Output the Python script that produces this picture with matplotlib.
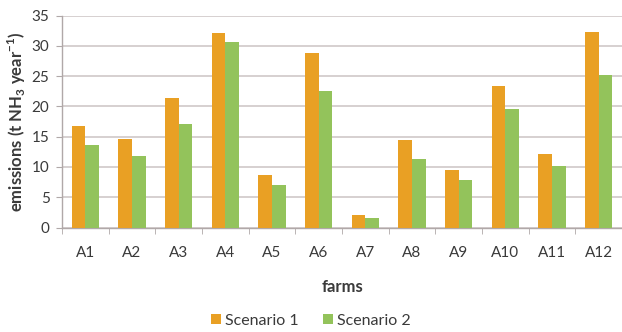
import numpy as np
import matplotlib
matplotlib.use("Agg")
import matplotlib.pyplot as plt

# 數據
farms = ["A1", "A2", "A3", "A4", "A5", "A6", "A7", "A8", "A9", "A10", "A11", "A12"]
scenario1 = [16.8, 14.7, 21.4, 32.1, 8.7, 28.8, 2.0, 14.5, 9.5, 23.4, 12.2, 32.3]
scenario2 = [13.7, 11.8, 17.1, 30.7, 7.1, 22.6, 1.5, 11.3, 7.9, 19.6, 10.2, 25.2]

plt.rcParams['font.family'] = ['Lato', 'DejaVu Sans']
plt.rcParams['mathtext.fontset'] = 'custom'
plt.rcParams['mathtext.rm'] = 'Lato'
plt.rcParams['mathtext.bf'] = 'Lato:bold'

ORANGE = '#E9A024'
GREEN = '#93C35B'
GRID = '#CFC8C8'
AXIS = '#B0A8A8'
TEXT = '#3A3A3A'

fig = plt.figure(figsize=(6.22, 3.32), dpi=100)
ax = fig.add_axes([62 / 622, 1 - 227.5 / 332, 1 - 62 / 622, (227.5 - 15.7) / 332])

x = np.arange(len(farms))
w = 0.29
ax.bar(x - w / 2, scenario1, width=w, color=ORANGE, label='Scenario 1', zorder=3)
ax.bar(x + w / 2, scenario2, width=w, color=GREEN, label='Scenario 2', zorder=3)

ax.set_xlim(-0.5, len(farms) - 0.5)
ax.set_ylim(0, 35)
ax.set_yticks(np.arange(0, 36, 5))
ax.yaxis.grid(True, color=GRID, linewidth=1.2, zorder=0)
ax.set_axisbelow(True)

ax.set_xticks(x)
ax.set_xticklabels(farms)
ax.set_xticks(np.arange(-0.5, len(farms), 1), minor=True)
ax.tick_params(axis='x', which='major', length=0, pad=13, labelsize=11, labelcolor=TEXT)
ax.tick_params(axis='x', which='minor', length=4, color=AXIS, direction='out')
ax.tick_params(axis='y', length=4, color=AXIS, pad=5, labelsize=11, labelcolor=TEXT)

for s in ['top', 'right']:
    ax.spines[s].set_visible(False)
for s in ['left', 'bottom']:
    ax.spines[s].set_color(AXIS)
    ax.spines[s].set_linewidth(1.0)

ax.set_xlabel('farms', fontsize=12, fontweight='bold', color=TEXT, labelpad=14)
ax.set_ylabel('emissions (t NH$_{\\mathbf{3}}$ year$^{\\mathbf{-1}}$)', fontsize=12,
              fontweight='bold', color=TEXT, labelpad=3)

fig.legend(loc='center', bbox_to_anchor=(311 / 622, 1 - 321 / 332), ncol=2, frameon=False,
           fontsize=11.5, handlelength=0.6, handleheight=0.6, handletextpad=0.3,
           columnspacing=1.5, labelcolor=TEXT)

fig.savefig('out.png', dpi=100)
